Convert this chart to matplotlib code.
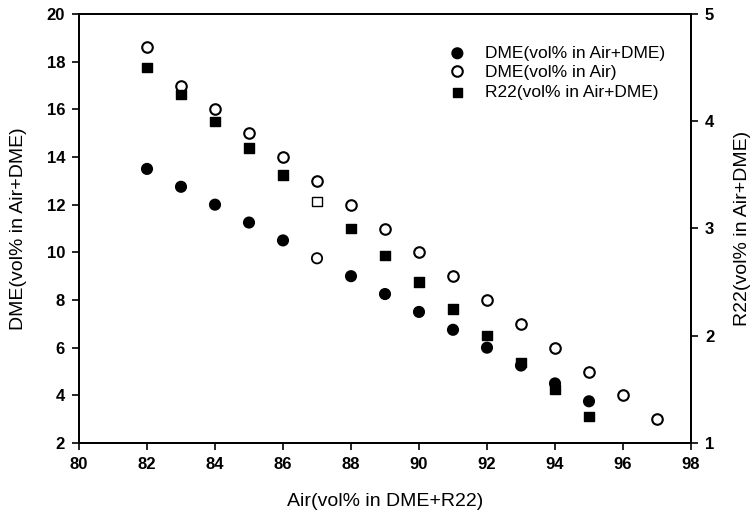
import matplotlib
matplotlib.use("Agg")
import matplotlib.pyplot as plt

plt.rcParams['font.family'] = ['Liberation Sans', 'DejaVu Sans']

# Data
air_dme = [82, 83, 84, 85, 86, 87, 88, 89, 90, 91, 92, 93, 94, 95]
dme_air_dme = [13.5, 12.75, 12.0, 11.25, 10.5, 9.75, 9.0, 8.25, 7.5, 6.75, 6.0, 5.25, 4.5, 3.75]
dme_hollow = [False, False, False, False, False, True, False, False, False, False, False, False, False, False]

air_open = [82, 83, 84, 85, 86, 87, 88, 89, 90, 91, 92, 93, 94, 95, 96, 97]
dme_air = [18.6, 17, 16, 15, 14, 13, 12, 11, 10, 9, 8, 7, 6, 5, 4, 3]

air_r22 = [82, 83, 84, 85, 86, 87, 88, 89, 90, 91, 92, 93, 94, 95]
r22 = [4.5, 4.25, 4.0, 3.75, 3.5, 3.25, 3.0, 2.75, 2.5, 2.25, 2.0, 1.75, 1.5, 1.25]
r22_hollow = [False, False, False, False, False, True, False, False, False, False, False, False, False, False]

xticks = [80, 82, 84, 86, 88, 90, 92, 94, 96, 98]
yticks_left = [2, 4, 6, 8, 10, 12, 14, 16, 18, 20]
yticks_right = [1, 2, 3, 4, 5]

fig = plt.figure(figsize=(7.51, 5.18), dpi=100)
W, H = 751, 518
ax = fig.add_axes([79 / W, 1 - 443 / H, (691 - 79) / W, (443 - 14) / H])
ax2 = ax.twinx()

fc1 = ['white' if h else 'black' for h in dme_hollow]
s1 = ax.scatter(air_dme, dme_air_dme, s=55, marker='o', facecolors=fc1,
                edgecolors='black', linewidths=1.3, zorder=3,
                label='DME(vol% in Air+DME)')
l2, = ax.plot(air_open, dme_air, linestyle='none', marker='o', markersize=7.6,
              markerfacecolor='white', markeredgecolor='black', markeredgewidth=1.5,
              zorder=3, label='DME(vol% in Air)')
fc3 = ['white' if h else 'black' for h in r22_hollow]
s3 = ax2.scatter(air_r22, r22, s=45, marker='s', facecolors=fc3,
                 edgecolors='black', linewidths=1.0, zorder=3,
                 label='R22(vol% in Air+DME)')

ax.set_xlim(80, 98)
ax.set_ylim(2, 20)
ax2.set_ylim(1, 5)
ax.set_xticks(xticks)
ax.set_yticks(yticks_left)
ax2.set_yticks(yticks_right)

tick_font = dict(fontsize=12, fontweight='bold')
ax.set_xticklabels([str(t) for t in xticks], **tick_font)
ax.set_yticklabels([str(t) for t in yticks_left], **tick_font)
ax2.set_yticklabels([str(t) for t in yticks_right], **tick_font)

for a in (ax, ax2):
    a.tick_params(direction='out', length=5, width=1.2, pad=5)
    for sp in a.spines.values():
        sp.set_linewidth(1.3)

ax.set_xlabel('Air(vol% in DME+R22)', fontsize=14, labelpad=15)
ax.set_ylabel('DME(vol% in Air+DME)', fontsize=14, labelpad=14)
ax2.set_ylabel('R22(vol% in Air+DME)', fontsize=14, labelpad=14)

leg = ax.legend(handles=[s1, l2, s3], loc='upper left',
                bbox_to_anchor=(440 / W, 1 - 37 / H), bbox_transform=fig.transFigure,
                frameon=False, fontsize=12.5, handlelength=1.0, handletextpad=1.1,
                labelspacing=0.25, borderpad=0)

fig.savefig('out.png', dpi=100)
